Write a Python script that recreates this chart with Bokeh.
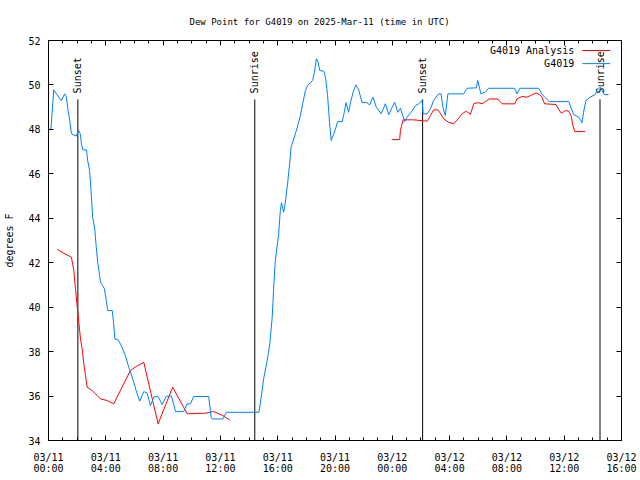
import math
import pandas as pd
from bokeh.plotting import figure
from bokeh.models import (FixedTicker, DatetimeTickFormatter, LinearAxis, DatetimeAxis,
                          Range1d, Label, Arrow)
from bokeh.core.properties import value
from bokeh.embed import file_html
from bokeh.resources import INLINE

FONT = "DejaVu Sans Mono"

# ---------------- data ----------------
blue_time = [
    "03-11 00:00", "03-11 00:10", "03-11 00:22", "03-11 00:43", "03-11 00:54", "03-11 01:08", "03-11 01:15", "03-11 01:22", "03-11 01:29", "03-11 01:36",
    "03-11 01:56", "03-11 02:07", "03-11 02:13", "03-11 02:18", "03-11 02:24", "03-11 02:39", "03-11 02:44", "03-11 02:52", "03-11 02:59", "03-11 03:05",
    "03-11 03:14", "03-11 03:20", "03-11 03:26", "03-11 03:31", "03-11 03:38", "03-11 03:47", "03-11 03:54", "03-11 04:02", "03-11 04:08", "03-11 04:27",
    "03-11 04:33", "03-11 04:38", "03-11 04:52", "03-11 05:05", "03-11 05:22", "03-11 05:36", "03-11 05:53", "03-11 06:07", "03-11 06:22", "03-11 06:39",
    "03-11 06:53", "03-11 07:07", "03-11 07:21", "03-11 07:38", "03-11 07:56", "03-11 08:13", "03-11 08:35", "03-11 08:52", "03-11 09:26", "03-11 09:41",
    "03-11 09:55", "03-11 10:08", "03-11 11:11", "03-11 11:21", "03-11 11:25", "03-11 12:11", "03-11 12:25", "03-11 14:41", "03-11 14:47", "03-11 15:01",
    "03-11 15:16", "03-11 15:27", "03-11 15:37", "03-11 15:43", "03-11 15:50", "03-11 15:58", "03-11 16:04", "03-11 16:11", "03-11 16:16", "03-11 16:25",
    "03-11 16:32", "03-11 16:42", "03-11 16:50", "03-11 16:56", "03-11 17:05", "03-11 17:14", "03-11 17:24", "03-11 17:35", "03-11 17:46", "03-11 17:56",
    "03-11 18:05", "03-11 18:26", "03-11 18:34", "03-11 18:42", "03-11 18:49", "03-11 18:56", "03-11 19:13", "03-11 19:20", "03-11 19:29", "03-11 19:37",
    "03-11 19:44", "03-11 19:52", "03-11 20:02", "03-11 20:11", "03-11 20:30", "03-11 20:39", "03-11 20:46", "03-11 20:57", "03-11 21:07", "03-11 21:18",
    "03-11 21:28", "03-11 21:39", "03-11 21:53", "03-11 22:14", "03-11 22:25", "03-11 22:39", "03-11 22:53", "03-11 23:13", "03-11 23:31", "03-11 23:45",
    "03-11 23:56", "03-12 00:10", "03-12 00:23", "03-12 00:34", "03-12 00:52", "03-12 01:02", "03-12 01:19", "03-12 01:37", "03-12 01:50", "03-12 02:05",
    "03-12 02:09", "03-12 02:26", "03-12 02:40", "03-12 02:53", "03-12 03:14", "03-12 03:24", "03-12 03:32", "03-12 03:42", "03-12 03:53", "03-12 04:59",
    "03-12 05:13", "03-12 05:52", "03-12 05:58", "03-12 06:11", "03-12 06:29", "03-12 06:44", "03-12 08:33", "03-12 08:42", "03-12 08:54", "03-12 10:13",
    "03-12 10:24", "03-12 10:38", "03-12 10:58", "03-12 12:19", "03-12 12:30", "03-12 12:40", "03-12 13:01", "03-12 13:15", "03-12 13:21", "03-12 13:31",
    "03-12 13:49", "03-12 14:10", "03-12 14:17", "03-12 14:31", "03-12 14:48", "03-12 15:06",
]
blue_val = [
    48.0, 48.0, 49.78, 49.45, 49.3, 49.6, 49.45, 48.85, 48.4, 47.8,
    47.7, 47.95, 47.8, 47.35, 47.08, 47.08, 46.6, 46.15, 45.1, 44.05,
    43.5, 42.7, 42.02, 41.65, 41.12, 40.97, 40.83, 40.3, 39.85, 39.85,
    39.25, 38.57, 38.53, 38.27, 37.82, 37.3, 36.77, 36.25, 35.77, 36.2,
    36.14, 35.57, 35.95, 35.99, 35.62, 35.99, 36.0, 35.3, 35.3, 35.65,
    35.65, 35.98, 35.98, 35.05, 34.97, 34.97, 35.27, 35.27, 35.65, 36.77,
    37.6, 38.35, 39.55, 40.83, 42.1, 42.77, 43.3, 44.35, 44.7, 44.27,
    44.72, 45.62, 46.45, 47.2, 47.5, 47.8, 48.17, 48.62, 49.22, 49.75,
    49.97, 50.2, 50.57, 51.18, 51.03, 50.65, 50.62, 50.35, 49.52, 48.32,
    47.5, 47.72, 48.02, 48.35, 48.35, 48.77, 49.2, 48.77, 49.3, 49.75,
    50.0, 49.78, 49.22, 49.2, 49.1, 49.45, 49.0, 48.7, 49.15, 48.66,
    48.92, 49.22, 48.77, 48.95, 48.35, 48.55, 48.77, 49.07, 49.15, 49.3,
    48.7, 48.7, 48.92, 49.3, 49.6, 49.6, 49.0, 48.62, 49.6, 49.6,
    49.85, 49.87, 50.2, 49.6, 49.67, 49.85, 49.85, 49.6, 49.85, 49.85,
    49.63, 49.45, 49.25, 49.25, 48.93, 48.66, 48.55, 48.3, 48.77, 49.3,
    49.45, 49.57, 49.75, 49.9, 49.57, 49.57,
]

red_time_a = [
    "03-11 00:36", "03-11 01:04", "03-11 01:36", "03-11 01:46", "03-11 01:53", "03-11 02:00", "03-11 02:07", "03-11 02:14", "03-11 02:21", "03-11 02:28",
    "03-11 02:35", "03-11 02:42", "03-11 03:03", "03-11 03:38", "03-11 04:06", "03-11 04:33", "03-11 05:43", "03-11 06:07", "03-11 06:39", "03-11 07:39",
    "03-11 08:40", "03-11 09:41", "03-11 10:57", "03-11 11:15", "03-11 11:32", "03-11 12:05", "03-11 12:39",
]
red_val_a = [
    42.6, 42.43, 42.25, 41.65, 40.83, 40.07, 39.32, 38.57, 38.12, 37.45,
    36.92, 36.4, 36.25, 35.87, 35.8, 35.65, 37.15, 37.33, 37.52, 34.75,
    36.4, 35.2, 35.23, 35.27, 35.3, 35.15, 34.93,
]
red_time_b = [
    "03-11 23:59", "03-12 00:31", "03-12 00:34", "03-12 00:45", "03-12 01:29", "03-12 02:26", "03-12 02:40", "03-12 02:53", "03-12 03:10", "03-12 03:21",
    "03-12 03:35", "03-12 03:56", "03-12 04:17", "03-12 04:38", "03-12 04:52", "03-12 05:10", "03-12 05:27", "03-12 05:42", "03-12 06:02", "03-12 06:16",
    "03-12 06:30", "03-12 06:46", "03-12 07:22", "03-12 07:40", "03-12 08:33", "03-12 08:42", "03-12 09:03", "03-12 09:24", "03-12 09:38", "03-12 10:02",
    "03-12 10:16", "03-12 10:27", "03-12 10:38", "03-12 11:26", "03-12 11:37", "03-12 11:48", "03-12 12:05", "03-12 12:19", "03-12 12:30", "03-12 12:35",
    "03-12 12:44", "03-12 13:28",
]
red_val_b = [
    47.54, 47.54, 47.95, 48.43, 48.43, 48.37, 48.62, 48.88, 48.88, 48.73,
    48.47, 48.32, 48.25, 48.5, 48.7, 48.82, 48.68, 49.17, 49.2, 49.15,
    49.25, 49.37, 49.37, 49.15, 49.15, 49.37, 49.48, 49.45, 49.52, 49.64,
    49.57, 49.45, 49.15, 49.12, 48.9, 48.73, 48.85, 48.82, 48.58, 48.25,
    47.9, 47.9,
]

sun_time = ["03-11 02:03", "03-11 14:24", "03-12 02:07", "03-12 14:30"]
sun_label = ["Sunset", "Sunrise", "Sunset", "Sunrise"]

x_tick_time = ["03-11 00:00", "03-11 04:00", "03-11 08:00", "03-11 12:00", "03-11 16:00", "03-11 20:00",
               "03-12 00:00", "03-12 04:00", "03-12 08:00", "03-12 12:00", "03-12 16:00"]
y_ticks = [34, 36, 38, 40, 42, 44, 46, 48, 50, 52]

series_names = ["G4019 Analysis", "G4019"]
series_colors = ["#ff0000", "#0080ff"]


def ts(s):
    return pd.Timestamp("2025-" + s)


def ms(s):
    return ts(s).value / 1e6


# ---------------- figure ----------------
x_start, x_end = ts(x_tick_time[0]), ts(x_tick_time[-1])
p = figure(width=640, height=480, x_axis_type="datetime",
           x_range=Range1d(x_start, x_end), y_range=Range1d(34, 52),
           output_backend="svg", toolbar_location=None,
           min_border_left=48, min_border_right=19, min_border_top=40, min_border_bottom=40)
p.background_fill_color = "white"
p.border_fill_color = "white"
p.outline_line_color = "black"
p.outline_line_width = 1
p.xgrid.visible = False
p.ygrid.visible = False

p.title.text = "Dew Point for G4019 on 2025-Mar-11 (time in UTC)"
p.title.text_font = FONT
p.title.text_font_size = "9px"
p.title.text_font_style = "normal"
p.title.text_color = "black"
p.title.align = "left"
p.title.offset = 141
p.title.standoff = 27

major_x = [ms(t) for t in x_tick_time]
minor_x = [t.value / 1e6 for t in pd.date_range(x_start, x_end, freq="1h")]
xticker = FixedTicker(ticks=major_x, minor_ticks=minor_x)
yticker = FixedTicker(ticks=y_ticks, minor_ticks=[])
fmt = "%m/%d\n%H:%M"
xfmt = DatetimeTickFormatter(hours=fmt, hourmin=fmt, days=fmt, months=fmt, minutes=fmt,
                             minsec=fmt, seconds=fmt, context=None)

xa = p.xaxis[0]
xa.ticker = xticker
xa.formatter = xfmt
ya = p.yaxis[0]
ya.ticker = yticker
ya.axis_label = "degrees F"
ya.axis_label_text_font = FONT
ya.axis_label_text_font_size = "10px"
ya.axis_label_text_font_style = "normal"
ya.axis_label_text_color = "black"
ya.axis_label_standoff = 10

for ax in (xa, ya):
    ax.major_label_text_font = FONT
    ax.major_label_text_font_size = "10px"
    ax.major_label_text_color = "black"
    ax.major_tick_in = 5
    ax.major_tick_out = 0
    ax.minor_tick_in = 3
    ax.minor_tick_out = 0
    ax.axis_line_color = "black"
    ax.major_tick_line_color = "black"
    ax.minor_tick_line_color = "black"
xa.major_label_standoff = 11
xa.major_label_text_line_height = 1.0
ya.major_label_standoff = 8
ya.minor_tick_line_color = None

# mirrored tick marks on top and right (no labels)
top_axis = DatetimeAxis(ticker=xticker, major_label_text_color=None, major_label_text_font_size="1px",
                        major_label_standoff=0, major_tick_in=5, major_tick_out=0,
                        minor_tick_in=3, minor_tick_out=0)
right_axis = LinearAxis(ticker=yticker, major_label_text_color=None, major_label_text_font_size="1px",
                        major_label_standoff=0, major_tick_in=5, major_tick_out=0,
                        minor_tick_line_color=None)
p.add_layout(top_axis, "above")
p.add_layout(right_axis, "right")

# sunrise / sunset markers
SUN_TOP = 49.35
SUN_TEXT_Y = 49.62
sun_x = [ts(t) for t in sun_time]
p.segment(x0=sun_x, y0=[34] * len(sun_x), x1=sun_x, y1=[SUN_TOP] * len(sun_x),
          line_color="black", line_width=1)
p.text(x=sun_x, y=[SUN_TEXT_Y] * len(sun_x), text=sun_label, angle=math.pi / 2,
       text_align="left", text_baseline="middle", text_font=value(FONT),
       text_font_size="10px", text_color="black")

# series
p.line([ts(t) for t in red_time_a], red_val_a, line_color=series_colors[0], line_width=1)
p.line([ts(t) for t in red_time_b], red_val_b, line_color=series_colors[0], line_width=1)
p.line([ts(t) for t in blue_time], blue_val, line_color=series_colors[1], line_width=1)

# gnuplot-style key (text left, sample right)
key_text_x = ms("03-12 12:42")
key_x0, key_x1 = ms("03-12 13:16"), ms("03-12 15:13")
for name, col, ky in zip(series_names, series_colors, [51.55, 50.96]):
    p.add_layout(Label(x=key_text_x, y=ky, text=name, text_align="right", text_baseline="middle",
                       text_font=FONT, text_font_size="10px", text_color="black"))
    p.add_layout(Arrow(end=None, x_start=key_x0, y_start=ky, x_end=key_x1, y_end=ky,
                       line_color=col, line_width=1))

open("out.html", "w").write(file_html(p, INLINE))
